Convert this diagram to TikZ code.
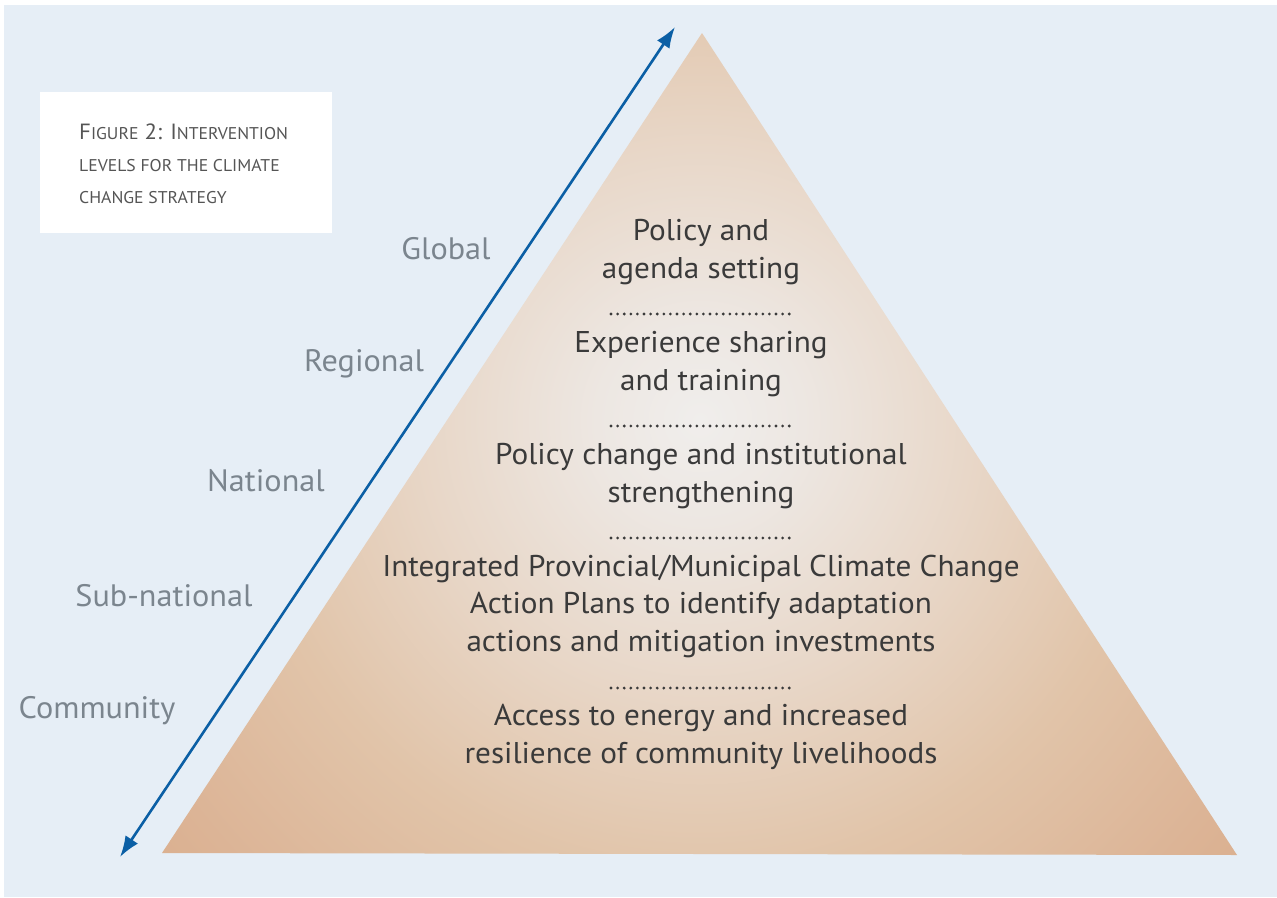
\documentclass[tikz,border=0pt]{standalone}
\usepackage{fontspec}
\setmainfont[FakeStretch=1.04]{PT Sans}
\usetikzlibrary{arrows.meta}
\definecolor{bgblue}{HTML}{E6EEF6}
\definecolor{arrowblue}{HTML}{0B5FA5}
\definecolor{pyrtext}{HTML}{3A3A3A}
\definecolor{leveltext}{HTML}{7B858E}
\definecolor{captext}{HTML}{555555}
\definecolor{pA}{HTML}{F0EEEC}
\definecolor{pB}{HTML}{EDE7E2}
\definecolor{pC}{HTML}{E8D7C8}
\definecolor{pD}{HTML}{E1C4A9}
\definecolor{pE}{HTML}{DCB496}
\definecolor{pF}{HTML}{D7A782}
\pgfdeclareradialshading{pyrshade}{\pgfpoint{0bp}{0bp}}{color(0bp)=(pA); color(3.7bp)=(pB); color(9.7bp)=(pC); color(16.3bp)=(pD); color(22.8bp)=(pE); color(30bp)=(pF); color(50bp)=(pF)}
\tikzset{
  pyrlabel/.style={text=pyrtext, align=center, inner sep=0pt, font=\fontsize{30}{37.5}\selectfont},
  levellabel/.style={text=leveltext, inner sep=0pt, font=\fontsize{31}{34}\selectfont},
  dotline/.style={draw=pyrtext, line width=3.1pt, line cap=round, dash pattern=on 0pt off 6.6pt},
  levelarrow/.style={draw=arrowblue, line width=2.6pt, {Latex[length=21pt,width=15pt]}-{Latex[length=21pt,width=15pt]}},
  captiontext/.style={text=captext, align=left, anchor=north west, inner sep=0pt, font=\fontsize{22}{32}\selectfont}
}
\newcommand{\smc}[1]{{\fontsize{17}{32}\selectfont #1}}
\begin{document}
\begin{tikzpicture}[x=1pt,y=-1pt]
\useasboundingbox (0,0) rectangle (1277,897);
\fill[bgblue] (4,5) rectangle (1277,897);
% caption box
\fill[white] (40,92) rectangle (332,233);
\node[captiontext] (cap) at (79,124) {F\smc{IGURE} 2: I\smc{NTERVENTION}\\ \smc{LEVELS FOR THE CLIMATE}\\ \smc{CHANGE STRATEGY}};
% pyramid
\begin{scope}
\clip (702,33) -- (1237,855) -- (162,853) -- cycle;
\shade[shading=pyrshade] (0,-280) rectangle (1400,1120);
\end{scope}
% texts
\node[pyrlabel] (t1) at (701,252) {Policy and\\agenda setting};
\node[pyrlabel] (t2) at (701,364) {Experience sharing\\and training};
\node[pyrlabel] (t3) at (701,476) {Policy change and institutional\\strengthening};
\node[pyrlabel] (t4) at (701,606) {Integrated Provincial/Municipal Climate Change\\Action Plans to identify adaptation\\actions and mitigation investments};
\node[pyrlabel] (t5) at (701,737) {Access to energy and increased\\resilience of community livelihoods};
\draw[dotline] (611,314) -- (792,314);
\draw[dotline] (611,426) -- (792,426);
\draw[dotline] (611,538) -- (792,538);
\draw[dotline] (611,688) -- (792,688);
% levels
\node[levellabel] (l1) at (446,249) {Global};
\node[levellabel] (l2) at (364,364) {Regional};
\node[levellabel] (l3) at (266,481) {National};
\node[levellabel] (l4) at (164,596) {Sub-national};
\node[levellabel] (l5) at (97,711) {Community};
% arrow
\coordinate (abot) at (120,857);
\coordinate (atop) at (675,27);
\draw[levelarrow] (abot) -- (atop);
\end{tikzpicture}
\end{document}
